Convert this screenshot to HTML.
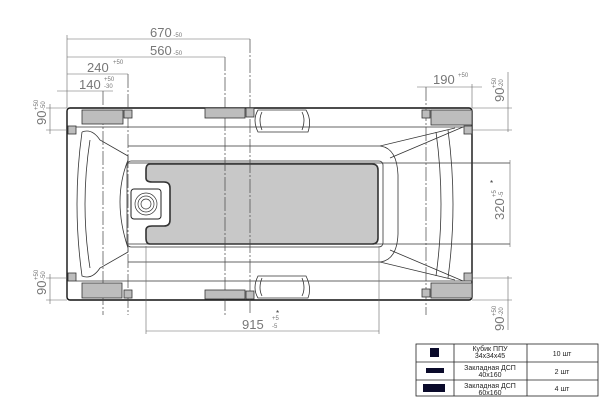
<!DOCTYPE html>
<html><head><meta charset="utf-8"><style>
html,body{margin:0;padding:0;background:#fff;width:600px;height:412px;overflow:hidden}
text{font-family:"Liberation Sans",sans-serif}
</style></head><body>
<svg width="600" height="412" viewBox="0 0 600 412" xmlns="http://www.w3.org/2000/svg">
<g fill="none" stroke="#333" stroke-width="0.8">
<rect x="67" y="108" width="405" height="192" rx="3" stroke="#111" stroke-width="1.4"/>
<line x1="76" y1="127" x2="464" y2="127"/>
<line x1="76" y1="281" x2="464" y2="281"/>
<line x1="128" y1="146" x2="380" y2="146"/>
<line x1="128" y1="262" x2="380" y2="262"/>
<line x1="128" y1="163" x2="510" y2="163"/>
<line x1="128" y1="244" x2="510" y2="244"/>
<path d="M380 146 Q397 148 398 175 L398 234 Q397 260 380 262"/>
<rect x="127" y="161" width="256" height="86" rx="4"/>
<path d="M82 132 Q92 128 100 140 L128 156 L128 160 Q112 200 128 248 L128 252 L100 268 Q92 280 82 276 Q72 204 82 132"/>
<path d="M90 140 Q80 204 90 268"/>
<path d="M380 146 L455 128 M390 158 L463 127"/>
<path d="M380 262 L455 280 M390 250 L463 281"/>
<path d="M436 132 Q446 204 436 276"/>
<path d="M448 130 Q458 204 448 278"/>
<path d="M258 110 L306 110 Q312 120 308 132 L258 132 Q252 120 258 110Z"/>
<path d="M262 112 Q258 120 262 130 M302 112 Q306 120 302 130"/>
<path d="M258 276 L306 276 Q312 288 308 298 L258 298 Q252 288 258 276Z"/>
<path d="M262 278 Q258 288 262 296 M302 278 Q306 288 302 296"/>
</g>
<path d="M150 164 L372 164 Q378 164 378 170 L378 238 Q378 244 372 244 L150 244 Q146 244 146 238 L146 230 Q146 226 152 226 L164 226 Q170 226 170 220 L170 188 Q170 182 164 182 L152 182 Q146 182 146 178 L146 170 Q146 164 150 164Z" fill="#c8c8c8" stroke="#333" stroke-width="1.6"/>
<rect x="131" y="189" width="30" height="30" rx="3" fill="#fff" stroke="#222" stroke-width="1"/>
<g fill="none" stroke="#333" stroke-width="0.7"><circle cx="146" cy="204" r="11"/><circle cx="146" cy="204" r="8"/><circle cx="146" cy="204" r="5"/></g>
<g stroke="#444" stroke-width="0.7" stroke-dasharray="14 2 2 2">
<line x1="103" y1="91" x2="103" y2="315"/>
<line x1="128" y1="74" x2="128" y2="315"/>
<line x1="225" y1="57" x2="225" y2="315"/>
<line x1="250" y1="39" x2="250" y2="315"/>
<line x1="426" y1="87" x2="426" y2="315"/>
</g>
<g stroke="#666" stroke-width="0.6" fill="none">
<line x1="67" y1="35" x2="67" y2="108"/>
<line x1="146" y1="246" x2="146" y2="334"/>
<line x1="379" y1="246" x2="379" y2="334"/>
<line x1="472" y1="84" x2="472" y2="108"/>
<line x1="472" y1="108" x2="512" y2="108"/>
<line x1="472" y1="130" x2="512" y2="130"/>
<line x1="472" y1="278" x2="512" y2="278"/>
<line x1="472" y1="300" x2="512" y2="300"/>
<line x1="46" y1="108" x2="67" y2="108"/>
<line x1="46" y1="130" x2="67" y2="130"/>
<line x1="46" y1="278" x2="67" y2="278"/>
<line x1="46" y1="300" x2="67" y2="300"/>
<line x1="67" y1="39" x2="250" y2="39"/>
<line x1="67" y1="57" x2="225" y2="57"/>
<line x1="67" y1="74" x2="128" y2="74"/>
<line x1="57" y1="91" x2="113" y2="91"/>
<line x1="417" y1="87" x2="482" y2="87"/>
<line x1="50" y1="104" x2="50" y2="134"/>
<line x1="50" y1="274" x2="50" y2="304"/>
<line x1="508" y1="72" x2="508" y2="132"/>
<line x1="510" y1="160" x2="510" y2="247"/>
<line x1="508" y1="276" x2="508" y2="330"/>
<line x1="146" y1="331" x2="379" y2="331"/>
</g>
<g fill="#bdbdbd" stroke="#333" stroke-width="0.8">
<rect x="82" y="110" width="41" height="14"/><rect x="124" y="110" width="8" height="8"/>
<rect x="205" y="108" width="40" height="10"/><rect x="246" y="108" width="8" height="9"/>
<rect x="68" y="126" width="8" height="8"/>
<rect x="422" y="110" width="8" height="8"/><rect x="431" y="110" width="41" height="15"/><rect x="464" y="126" width="8" height="8"/>
<rect x="68" y="273" width="8" height="8"/><rect x="82" y="283" width="40" height="15"/><rect x="124" y="290" width="8" height="8"/>
<rect x="205" y="290" width="40" height="9"/><rect x="246" y="291" width="8" height="8"/>
<rect x="464" y="273" width="8" height="8"/><rect x="431" y="283" width="41" height="15"/><rect x="422" y="289" width="8" height="8"/>
</g>
<g fill="#777" font-size="13">
<text x="150" y="37">670<tspan font-size="6"> -50</tspan></text>
<text x="150" y="55">560<tspan font-size="6"> -50</tspan></text>
<text x="87" y="72">240</text><text x="113" y="64" font-size="6">+50</text>
<text x="79" y="89">140</text><text x="104" y="81" font-size="6">+50</text><text x="104" y="88" font-size="6">-30</text>
<text x="433" y="84">190</text><text x="458" y="77" font-size="6">+50</text>
<text x="242" y="329">915</text><text x="272" y="320" font-size="6">+5</text><text x="272" y="328" font-size="6">-5</text><text x="276" y="316" font-size="8" fill="#333">*</text>
<text transform="translate(46,125) rotate(-90)">90</text><text transform="translate(38,110) rotate(-90)" font-size="6">+50</text><text transform="translate(45,110) rotate(-90)" font-size="6">-50</text>
<text transform="translate(46,295) rotate(-90)">90</text><text transform="translate(38,280) rotate(-90)" font-size="6">+50</text><text transform="translate(45,280) rotate(-90)" font-size="6">-50</text>
<text transform="translate(504,102) rotate(-90)">90</text><text transform="translate(496,88) rotate(-90)" font-size="6">+50</text><text transform="translate(503,88) rotate(-90)" font-size="6">-20</text>
<text transform="translate(504,331) rotate(-90)">90</text><text transform="translate(496,316) rotate(-90)" font-size="6">+50</text><text transform="translate(503,316) rotate(-90)" font-size="6">-20</text>
<text transform="translate(504,220) rotate(-90)">320</text><text transform="translate(496,197) rotate(-90)" font-size="6">+5</text><text transform="translate(503,197) rotate(-90)" font-size="6">-5</text><text x="490" y="186" font-size="8" fill="#333">*</text>
</g>
<g stroke="#222" stroke-width="0.8" fill="none">
<rect x="416" y="344" width="182" height="52"/>
<line x1="454" y1="344" x2="454" y2="396"/><line x1="527" y1="344" x2="527" y2="396"/>
<line x1="416" y1="362" x2="598" y2="362"/><line x1="416" y1="380" x2="598" y2="380"/>
</g>
<g fill="#0a0a2a">
<rect x="430" y="348" width="9" height="9"/>
<rect x="426" y="368" width="18" height="5"/>
<rect x="423" y="384" width="22" height="8"/>
</g>
<g font-size="7" fill="#222" text-anchor="middle">
<text x="490" y="351" font-family="Liberation Serif">Кубик ППУ</text><text x="490" y="358">34x34x45</text>
<text x="490" y="370">Закладная ДСП</text><text x="490" y="377">40x160</text>
<text x="490" y="388">Закладная ДСП</text><text x="490" y="395">60x160</text>
<text x="562" y="356">10 шт</text><text x="562" y="374">2 шт</text><text x="562" y="391">4 шт</text>
</g>
</svg>
</body></html>
